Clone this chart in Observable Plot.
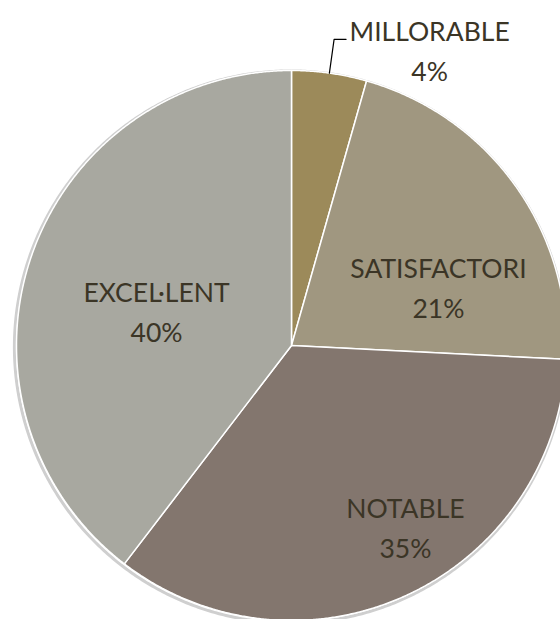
<!DOCTYPE html>
<html><head><meta charset="utf-8">
<script src="https://cdn.jsdelivr.net/npm/d3@7"></script>
<script src="https://cdn.jsdelivr.net/npm/@observablehq/plot@0.6"></script>
<style>html,body{margin:0;padding:0;background:#fff;overflow:hidden}</style>
</head><body><div id="chart"></div>
<script>
// ---- data ----
const categories = ["MILLORABLE", "SATISFACTORI", "NOTABLE", "EXCEL·LENT"];
const values = [4.4, 21.4, 34.6, 39.6];
const percentLabels = ["4%", "21%", "35%", "40%"];
const colors = ["#9c8a5a", "#a09780", "#83766e", "#a8a8a0"];

// ---- layout ----
const W = 560, H = 619, cx = 291, cy = 345, R = 275;
// label placement (polar: radius fraction, angle in degrees clockwise from 12 o'clock)
const labelPlacement = [
  {r: 1.193, a: 24.9},
  {r: 0.578, a: 67.6},
  {r: 0.773, a: 147.6},
  {r: 0.508, a: 284.9}
];

const total = d3.sum(values);
let acc = 0;
const slices = categories.map((c, i) => {
  const a0 = acc / total * 2 * Math.PI;
  acc += values[i];
  const a1 = acc / total * 2 * Math.PI;
  return {c, i, a0, a1, mid: (a0 + a1) / 2, pct: percentLabels[i]};
});
const polar = (a, r) => [r * Math.sin(a), r * Math.cos(a)];

const slicePts = slices.flatMap(s => {
  const n = Math.max(4, Math.ceil((s.a1 - s.a0) / 0.005));
  const pts = [{c: s.c, x: 0, y: 0}];
  for (let k = 0; k <= n; k++) {
    const [x, y] = polar(s.a0 + (s.a1 - s.a0) * k / n, 1);
    pts.push({c: s.c, x, y});
  }
  pts.push({c: s.c, x: 0, y: 0});
  return pts;
});

const circlePts = d3.range(0, 721).map(k => {
  const [x, y] = polar(k / 720 * 2 * Math.PI, 1.004);
  return {x, y};
});

const labels = slices.map((s, i) => {
  const p = labelPlacement[i];
  const [x, y] = polar(p.a * Math.PI / 180, p.r);
  return {x, y, text: s.c + "\n" + s.pct};
});

// leader line for the outside label (first slice)
const s0 = slices[0];
const e0 = polar(s0.mid, 1), e1 = polar(s0.mid, 1.124);
const leader = [
  {x: e0[0], y: e0[1]},
  {x: e1[0], y: e1[1]},
  {x: e1[0] + 12 / R, y: e1[1]}
];

const chart = Plot.plot({
  width: W, height: H,
  margin: 0,
  style: {fontFamily: "Lato, 'Open Sans', sans-serif", background: "#fff"},
  x: {type: "linear", domain: [-cx / R, (W - cx) / R], range: [0, W], axis: null},
  y: {type: "linear", domain: [-(H - cy) / R, cy / R], range: [H, 0], axis: null},
  color: {domain: categories, range: colors},
  marks: [
    Plot.line(circlePts, {x: "x", y: "y", stroke: "#cfcfcf", strokeWidth: 3, dx: -1, dy: 1.5, curve: "linear"}),
    Plot.line(slicePts, {x: "x", y: "y", z: "c", fill: "c", stroke: "white", strokeWidth: 1.5, strokeLinejoin: "round", curve: "linear"}),
    Plot.line(leader, {x: "x", y: "y", stroke: "#000", strokeWidth: 1.2, curve: "linear"}),
    Plot.text(labels, {x: "x", y: "y", text: "text", fontSize: 26.5, fill: "#3b3526", lineHeight: 1.5, lineAnchor: "middle", textAnchor: "middle"})
  ]
});
document.getElementById("chart").appendChild(chart);
</script>
</body></html>
